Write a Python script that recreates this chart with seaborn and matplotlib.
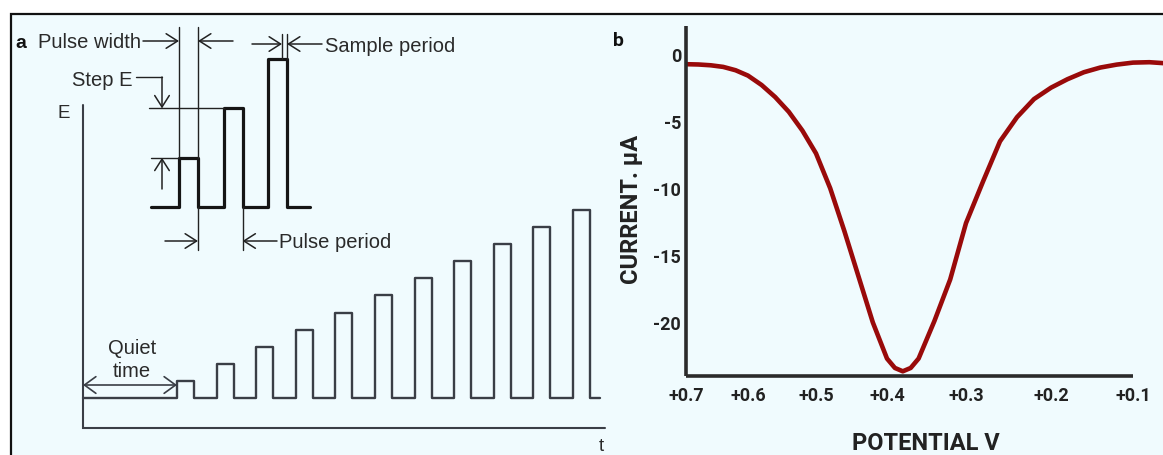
import numpy as np
import matplotlib
matplotlib.use("Agg")
import matplotlib.pyplot as plt
from matplotlib.patches import Rectangle
import seaborn as sns

# ---------------- data ----------------
# panel b : square-wave voltammogram (potential in V, current in uA)
potential_V = [0.698, 0.68, 0.66, 0.64, 0.62, 0.60, 0.58, 0.56, 0.54, 0.52,
               0.50, 0.48, 0.46, 0.44, 0.42, 0.40, 0.39, 0.38, 0.37, 0.36,
               0.34, 0.32, 0.30, 0.28, 0.26, 0.24, 0.22, 0.20, 0.18, 0.16,
               0.14, 0.12, 0.10, 0.08, 0.063]
current_uA = [-0.75, -0.77, -0.83, -0.95, -1.2, -1.6, -2.3, -3.2, -4.3, -5.7,
              -7.4, -10.0, -13.2, -16.6, -20.0, -22.7, -23.4, -23.65, -23.4, -22.7,
              -19.9, -16.8, -12.6, -9.5, -6.5, -4.7, -3.35, -2.5, -1.87, -1.35,
              -1.0, -0.78, -0.63, -0.6, -0.67]
x_ticks = [0.7, 0.6, 0.5, 0.4, 0.3, 0.2, 0.1]
x_tick_labels = ["+0.7", "+0.6", "+0.5", "+0.4", "+0.3", "+0.2", "+0.1"]
y_ticks = [0, -5, -10, -15, -20]
y_tick_labels = ["0", "-5", "-10", "-15", "-20"]

# panel a : staircase pulse waveform (arbitrary time / E units)
quiet_time = 94
pulse_period = 39.6
pulse_width = 17
step_E = 17.1
pulse_steps = [1, 2, 3, 4, 5, 6, 7, 8, 9, 10, 11]
scan_end = 517
# enlarged inset of the first three pulses
inset_steps = [1, 2, 3]
inset_step_E = 49.3
inset_period = 44.5
inset_width = 19
inset_lead = 28
inset_length = 159

# ---------------- style ----------------
sns.set_style("white")
plt.rcParams["font.family"] = ["Liberation Sans", "DejaVu Sans"]

W, H, DPI = 1163, 456, 100
BG = "#f0fbfe"
RED = "#990a0a"
DARK = "#2b2b2b"
LINE_A = "#3a3e46"
TXT_A = "#2a2a2a"
FS_A = 14.5

fig = plt.figure(figsize=(W / DPI, H / DPI), dpi=DPI)
fig.patch.set_facecolor("white")
fig.add_artist(Rectangle((11 / W, -0.2), 1.2, 441 / H + 0.2, transform=fig.transFigure,
                         facecolor=BG, edgecolor="#111111", lw=1.6, zorder=-10))


def square_wave(x0, y0, lead, period, width, steps, dE, total):
    xs, ys = [x0], [y0]
    for k, s in enumerate(steps):
        left = x0 + lead + k * period
        xs += [left, left, left + width, left + width]
        ys += [y0, y0 + s * dE, y0 + s * dE, y0]
    xs.append(x0 + total)
    ys.append(y0)
    return xs, ys


# ---------------- panel a ----------------
axa = fig.add_axes([11 / W, 0, 604 / W, 441 / H])
axa.set_xlim(-72, 532)
axa.set_ylim(-57, 384)
axa.axis("off")
axa.patch.set_alpha(0)

def P(xp, yp):
    """figure-pixel position -> panel a data coordinates (for annotations)"""
    return (xp - 83, 399 - yp)

# axes of the sketch
axa.plot([0, 0, 522], [293, -30, -30], color=LINE_A, lw=1.5, solid_joinstyle="miter")
axa.text(*P(64, 113), "E", fontsize=13.5, color=TXT_A, ha="center", va="center")
axa.text(*P(601, 447), "t", fontsize=13.5, color=TXT_A, ha="center", va="center")

t_main, e_main = square_wave(0, 0, quiet_time, pulse_period, pulse_width,
                             pulse_steps, step_E, scan_end)
sns.lineplot(x=t_main, y=e_main, sort=False, estimator=None, ax=axa,
             color=LINE_A, lw=1.7)

arrow = dict(arrowstyle="->,head_length=0.55,head_width=0.35", lw=1.1, color="#222222",
             shrinkA=0, shrinkB=0, mutation_scale=15)
arrow2 = dict(arrowstyle="<->,head_length=0.55,head_width=0.4", lw=1.2, color=LINE_A,
              shrinkA=0, shrinkB=0, mutation_scale=15)

# quiet time
axa.annotate("", xy=P(83, 386), xytext=P(177, 386), arrowprops=arrow2)
axa.text(*P(132, 349), "Quiet", fontsize=FS_A, color=TXT_A, ha="center", va="center")
axa.text(*P(132, 372), "time", fontsize=FS_A, color=TXT_A, ha="center", va="center")

# inset waveform
ix0, iy0 = P(151, 208)
t_in, e_in = square_wave(ix0, iy0, inset_lead, inset_period, inset_width,
                         inset_steps, inset_step_E, inset_length)
sns.lineplot(x=t_in, y=e_in, sort=False, estimator=None, ax=axa,
             color="#151515", lw=2.3)
p_left = [ix0 + inset_lead + k * inset_period for k in range(len(inset_steps))]
p_right = [pl + inset_width for pl in p_left]
p_top = [iy0 + s * inset_step_E for s in inset_steps]
thin = dict(color="#222222", lw=1.0)

# pulse width
y_pw = P(0, 42)[1]
axa.plot([p_left[0], p_left[0]], [p_top[0], P(0, 28)[1]], **thin)
axa.plot([p_right[0], p_right[0]], [p_top[0], P(0, 28)[1]], **thin)
axa.annotate("", xy=(p_left[0], y_pw), xytext=(P(143, 0)[0], y_pw), arrowprops=arrow)
axa.annotate("", xy=(p_right[0], y_pw), xytext=(P(233, 0)[0], y_pw), arrowprops=arrow)
axa.text(P(141, 0)[0], P(0, 43)[1], "Pulse width", fontsize=FS_A, color=TXT_A,
         ha="right", va="center")

# sample period
y_sp = P(0, 45)[1]
xs1, xs2 = p_right[2] - 5, p_right[2]
axa.plot([xs1, xs1], [p_top[2], P(0, 35)[1]], **thin)
axa.plot([xs2, xs2], [p_top[2], P(0, 35)[1]], **thin)
axa.annotate("", xy=(xs1, y_sp), xytext=(P(252, 0)[0], y_sp), arrowprops=arrow)
axa.annotate("", xy=(xs2, y_sp), xytext=(P(322, 0)[0], y_sp), arrowprops=arrow)
axa.text(P(325, 0)[0], P(0, 46)[1], "Sample period", fontsize=FS_A, color=TXT_A,
         ha="left", va="center")

# step E
xa = P(162, 0)[0]
axa.text(P(133, 0)[0], P(0, 80)[1], "Step E", fontsize=FS_A, color=TXT_A,
         ha="right", va="center")
axa.plot([P(136, 0)[0], xa], [P(0, 78)[1], P(0, 78)[1]], **thin)
axa.annotate("", xy=(xa, p_top[1]), xytext=(xa, P(0, 78)[1]), arrowprops=arrow)
axa.plot([P(149, 0)[0], p_left[1]], [p_top[1], p_top[1]], **thin)
axa.annotate("", xy=(xa, p_top[0]), xytext=(xa, P(0, 190)[1]), arrowprops=arrow)
axa.plot([P(151, 0)[0], p_left[0]], [p_top[0], p_top[0]], **thin)

# pulse period
y_pp = P(0, 242)[1]
axa.plot([p_right[0], p_right[0]], [iy0, P(0, 251)[1]], **thin)
axa.plot([p_right[1], p_right[1]], [iy0, P(0, 251)[1]], **thin)
axa.annotate("", xy=(p_right[0], y_pp), xytext=(P(165, 0)[0], y_pp), arrowprops=arrow)
axa.annotate("", xy=(p_right[1], y_pp), xytext=(P(277, 0)[0], y_pp), arrowprops=arrow)
axa.text(P(279, 0)[0], P(0, 243)[1], "Pulse period", fontsize=FS_A, color=TXT_A,
         ha="left", va="center")

fig.text(21 / W, 1 - 43 / H, "a", fontsize=14, fontweight="bold", color="#111111",
         ha="center", va="center")
fig.text(618 / W, 1 - 41 / H, "b", fontsize=14, fontweight="bold", color="#111111",
         ha="center", va="center", family=["Roboto", "DejaVu Sans"])

# ---------------- panel b ----------------
# the printed potential axis is not evenly spaced: piecewise-linear scale
knot_v = [0.0, 0.1, 0.2, 0.3, 0.4, 0.5, 0.6, 0.7, 0.8]
knot_u = [-82, 0, 82, 167, 246, 317, 385, 447, 509]

def fwd(v):
    return np.interp(v, knot_v, knot_u)

def inv(u):
    return np.interp(u, knot_u, knot_v)

axb = fig.add_axes([686 / W, 1 - 377 / H, 447 / W, 350 / H])
axb.patch.set_alpha(0)
axb.set_xscale("function", functions=(fwd, inv))
sns.lineplot(x=potential_V, y=current_uA, sort=False, estimator=None, ax=axb,
             color=RED, lw=3.3, clip_on=False, solid_capstyle="round",
             solid_joinstyle="round")
axb.set_xlim(0.7, 0.1)
axb.set_ylim(-24.0, 2.1)
axb.set_xticks(x_ticks, x_tick_labels)
axb.set_yticks(y_ticks, y_tick_labels)
axb.minorticks_off()
for s in ["top", "right"]:
    axb.spines[s].set_visible(False)
for s in ["left", "bottom"]:
    axb.spines[s].set_linewidth(2.6)
    axb.spines[s].set_color(DARK)
    axb.spines[s].set_capstyle("butt")
axb.tick_params(axis="both", direction="in", color="#8a8a8a", width=0.9,
                labelsize=13, labelcolor="#222222")
axb.tick_params(axis="x", length=10.5, pad=7)
axb.tick_params(axis="y", length=9.5, pad=3.5)
for lab in axb.get_xticklabels() + axb.get_yticklabels():
    lab.set_fontweight("bold")
    lab.set_family(["Roboto", "DejaVu Sans"])

axb.set_ylabel("CURRENT. µA", fontsize=17, fontweight="bold", color="#222222",
               family=["Roboto", "DejaVu Sans"])
axb.yaxis.set_label_coords(-0.096, 0.48)
axb.set_xlabel("POTENTIAL V", fontsize=17, fontweight="bold", color="#222222",
               family=["Roboto", "DejaVu Sans"])
axb.xaxis.set_label_coords(0.537, -0.156)

fig.savefig("out.png", dpi=DPI, facecolor="white")
